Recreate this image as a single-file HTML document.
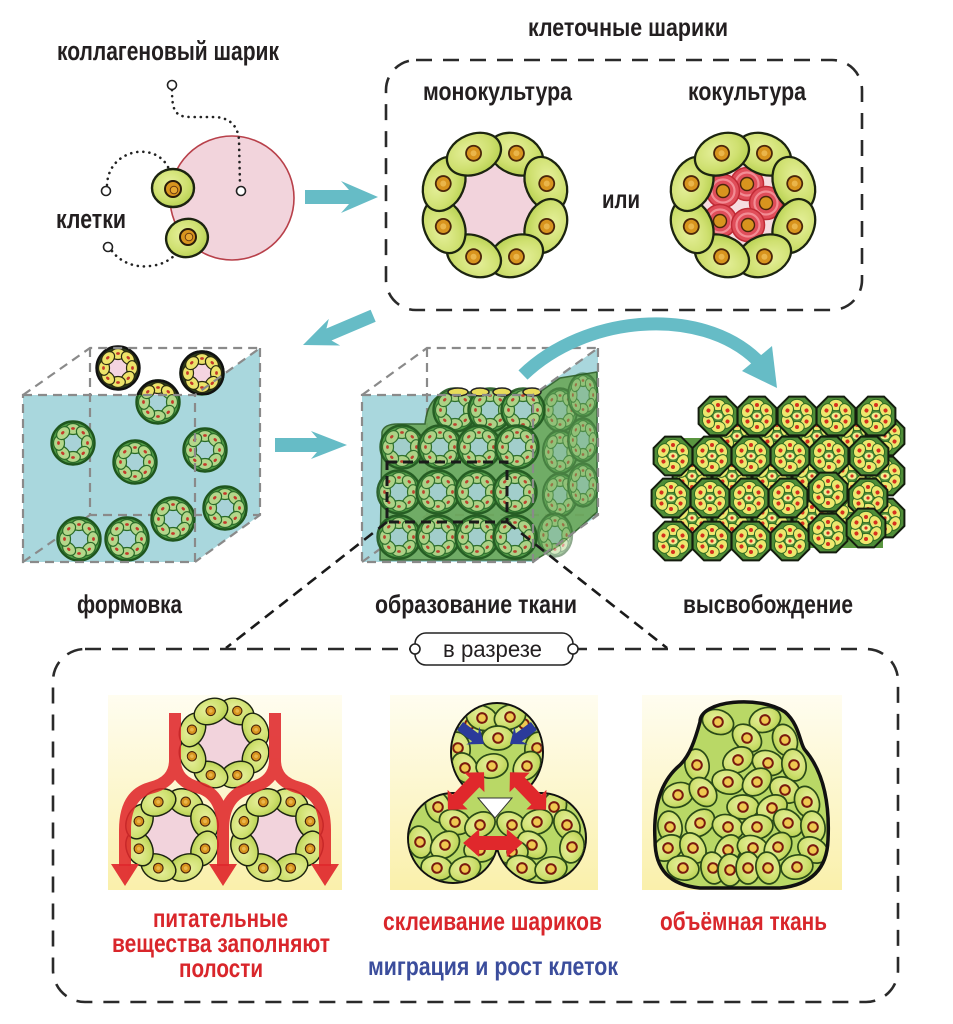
<!DOCTYPE html>
<html><head><meta charset="utf-8">
<style>
html,body{margin:0;padding:0;background:#fff;}
svg{display:block}
text{font-family:"Liberation Sans","DejaVu Sans",sans-serif;font-weight:bold;}
</style></head><body>
<svg width="953" height="1024" viewBox="0 0 953 1024" xmlns="http://www.w3.org/2000/svg" xmlns:xlink="http://www.w3.org/1999/xlink">
<defs>
<radialGradient id="cg" cx="0.42" cy="0.38" r="0.75"><stop offset="0" stop-color="#e6f09c"/><stop offset="0.55" stop-color="#cfe070"/><stop offset="1" stop-color="#aecb45"/></radialGradient>
<linearGradient id="pbg" x1="0" y1="0" x2="0" y2="1"><stop offset="0" stop-color="#fffdf0"/><stop offset="1" stop-color="#faf0ab"/></linearGradient>
<g id="bc"><ellipse rx="28" ry="20" fill="url(#cg)" stroke="#1c2410" stroke-width="2.3"/><circle cy="-1" r="7.5" fill="#d8941e" stroke="#4b260a" stroke-width="1.8"/><circle cy="-1" r="3" fill="#eab54a"/></g>
<g id="rcells">
<use href="#bc" transform="rotate(22.5) translate(0,-55)"/>
<use href="#bc" transform="rotate(67.5) translate(0,-55)"/>
<use href="#bc" transform="rotate(112.5) translate(0,-55)"/>
<use href="#bc" transform="rotate(157.5) translate(0,-55)"/>
<use href="#bc" transform="rotate(202.5) translate(0,-55)"/>
<use href="#bc" transform="rotate(247.5) translate(0,-55)"/>
<use href="#bc" transform="rotate(292.5) translate(0,-55)"/>
<use href="#bc" transform="rotate(337.5) translate(0,-55)"/>
</g>
<g id="ring"><polygon points="38.8,16.1 16.1,38.8 -16.1,38.8 -38.8,16.1 -38.8,-16.1 -16.1,-38.8 16.1,-38.8 38.8,-16.1" fill="#f2d3dc"/><use href="#rcells"/></g>
<g id="rc"><circle r="16.5" fill="#e04e5a" stroke="#c02a35" stroke-width="1.5"/><circle r="11.5" fill="none" stroke="#f28c94" stroke-width="2.2"/><circle r="6.5" fill="#d8941e" stroke="#4b260a" stroke-width="1.4"/></g>
<g id="sc"><ellipse cy="-14" rx="7.3" ry="5.5" fill="#b3d78a" stroke="#2a6a28" stroke-width="1.2"/><ellipse cy="-14.5" rx="1.9" ry="1.4" fill="#c43a2a"/></g>
<g id="sph"><circle r="21.5" fill="#4f9a45" stroke="#1f561d" stroke-width="2.4"/><circle r="8.8" fill="#a8d2d7"/>
<use href="#sc"/><use href="#sc" transform="rotate(45)"/><use href="#sc" transform="rotate(90)"/><use href="#sc" transform="rotate(135)"/><use href="#sc" transform="rotate(180)"/><use href="#sc" transform="rotate(225)"/><use href="#sc" transform="rotate(270)"/><use href="#sc" transform="rotate(315)"/></g>
<g id="syc"><ellipse cy="-14" rx="7.3" ry="5.5" fill="#ece36a" stroke="#2a2a10" stroke-width="1.2"/><ellipse cy="-14.5" rx="1.9" ry="1.4" fill="#c43a2a"/></g>
<g id="sphY"><circle r="21.5" fill="#2b3b1a" stroke="#111" stroke-width="2.4"/><circle r="9" fill="#f4d4e0"/>
<use href="#syc"/><use href="#syc" transform="rotate(45)"/><use href="#syc" transform="rotate(90)"/><use href="#syc" transform="rotate(135)"/><use href="#syc" transform="rotate(180)"/><use href="#syc" transform="rotate(225)"/><use href="#syc" transform="rotate(270)"/><use href="#syc" transform="rotate(315)"/></g>
<g id="oyc"><ellipse cy="-11" rx="7.2" ry="5.6" fill="#ece86e" stroke="#2f6a22" stroke-width="1"/><circle cy="-11" r="2" fill="#d6301e"/></g>
<g id="oc"><polygon points="19.4,8 8,19.4 -8,19.4 -19.4,8 -19.4,-8 -8,-19.4 8,-19.4 19.4,-8" fill="#4f8d38" stroke="#141d0e" stroke-width="2"/>
<use href="#oyc"/><use href="#oyc" transform="rotate(60)"/><use href="#oyc" transform="rotate(120)"/><use href="#oyc" transform="rotate(180)"/><use href="#oyc" transform="rotate(240)"/><use href="#oyc" transform="rotate(300)"/>
<ellipse rx="4.5" ry="3.5" fill="#f2ee90"/><circle r="1.6" fill="#d6301e"/></g>
<g id="pc"><ellipse rx="16" ry="12" fill="url(#cg)" stroke="#2a4a18" stroke-width="1.7"/><circle r="4.8" fill="#f0c850" stroke="#7a1a0e" stroke-width="2"/></g>
<clipPath id="clipAbove"><rect x="0" y="300" width="953" height="95"/></clipPath>
<clipPath id="clipP2"><ellipse cx="497" cy="752" rx="45" ry="48"/><circle cx="453" cy="838" r="44"/><circle cx="541" cy="838" r="44"/><polygon points="465,792 530,792 545,805 497,850 450,805"/></clipPath>
<path id="mound" d="M700 722 C700 700 760 695 785 712 C800 725 800 745 805 750 C822 770 830 800 828 840 C827 870 810 885 780 888 L700 888 C670 885 655 870 655 840 C653 805 662 780 680 765 C690 755 695 740 700 722 Z"/>
<clipPath id="clipP3"><use href="#mound"/></clipPath>
<polygon id="dbl" points="-26,0 -12,-14 -12,-7 12,-7 12,-14 26,0 12,14 12,7 -12,7 -12,14" fill="#e0282c"/>
</defs>

<!-- ===== TOP LEFT ===== -->
<text x="57" y="60" font-size="27" fill="#231f20" textLength="222" lengthAdjust="spacingAndGlyphs">коллагеновый шарик</text>
<text x="56" y="228" font-size="27" fill="#231f20" textLength="70" lengthAdjust="spacingAndGlyphs">клетки</text>

<circle cx="232" cy="198" r="62" fill="#f2d4dc" stroke="#b8404a" stroke-width="1.6"/>
<g fill="none" stroke="#222" stroke-width="2.6" stroke-linecap="round" stroke-dasharray="0.1 6">
<path d="M172 90 C172 110 175 117 190 117 L215 117 C232 118 238 128 239 140 L240 185"/>
<path d="M107 185 C108 160 130 150 145 152 C158 153 168 162 171 175"/>
<path d="M112 251 C120 262 135 268 150 266 C162 265 170 260 176 254"/>
</g>
<g fill="#fff" stroke="#222" stroke-width="1.6">
<circle cx="172" cy="85" r="4.5"/><circle cx="241" cy="191" r="4.5"/><circle cx="106" cy="191" r="4.5"/><circle cx="108" cy="247" r="4.5"/>
</g>
<g>
<ellipse cx="173" cy="188" rx="21" ry="19" fill="url(#cg)" stroke="#1c2410" stroke-width="2.4"/>
<circle cx="173" cy="189" r="8" fill="#d8941e" stroke="#2a1a08" stroke-width="2"/><circle cx="174" cy="190" r="3.8" fill="#e8a830" stroke="#6a3a10" stroke-width="1"/>
<ellipse cx="187" cy="238" rx="21" ry="19" fill="url(#cg)" stroke="#1c2410" stroke-width="2.4" transform="rotate(-15 187 238)"/>
<circle cx="188" cy="237" r="8" fill="#d8941e" stroke="#2a1a08" stroke-width="2"/><circle cx="189" cy="237" r="3.8" fill="#e8a830" stroke="#6a3a10" stroke-width="1"/>
</g>

<polygon points="305,190 349,190 341,181 378,197 341,213 349,204 305,204" fill="#66bcc6"/>

<!-- ===== TOP RIGHT BOX ===== -->
<text x="528" y="36" font-size="25" fill="#231f20" textLength="200" lengthAdjust="spacingAndGlyphs">клеточные шарики</text>
<rect x="386" y="60" width="476" height="250" rx="30" fill="none" stroke="#2a2a2a" stroke-width="2.6" stroke-dasharray="16 11"/>
<text x="423" y="100" font-size="26" fill="#231f20" textLength="149" lengthAdjust="spacingAndGlyphs">монокультура</text>
<text x="688" y="100" font-size="26" fill="#231f20" textLength="118" lengthAdjust="spacingAndGlyphs">кокультура</text>
<text x="602" y="208" font-size="26" fill="#231f20" textLength="38" lengthAdjust="spacingAndGlyphs">или</text>
<use href="#ring" transform="translate(495,205)"/>
<g transform="translate(743,205)">
<circle r="42" fill="#f6dce0"/>
<use href="#rc" transform="translate(4,-21)"/>
<use href="#rc" transform="translate(-20,-14)"/>
<use href="#rc" transform="translate(23,-2)"/>
<use href="#rc" transform="translate(-23,16)"/>
<use href="#rc" transform="translate(5,20)"/>
<use href="#rcells"/>
</g>

<g transform="translate(303,345) rotate(-23)"><polygon points="0,0 34,-14 28,-6 76,-6 76,7 28,7 34,15" fill="#66bcc6"/></g>

<!-- ===== CUBE 1 ===== -->
<polygon points="23,395 195,395 195,562 23,562" fill="#a9d7dd"/>
<polygon points="195,395 260,348 260,515 195,562" fill="#a9d7dd"/>
<g fill="none" stroke="#8a8a8a" stroke-width="2.2" stroke-dasharray="9 6">
<path d="M90 348 V515 H260"/><path d="M23 562 L90 515"/>
</g>
<use href="#sph" transform="translate(73,443)"/>
<use href="#sph" transform="translate(135,462)"/>
<use href="#sph" transform="translate(205,450)"/>
<use href="#sph" transform="translate(225,508)"/>
<use href="#sph" transform="translate(173,519)"/>
<use href="#sph" transform="translate(79,539)"/>
<use href="#sph" transform="translate(127,539)"/>
<use href="#sphY" transform="translate(118,368)"/>
<use href="#sph" transform="translate(158,402)"/>
<use href="#sph" transform="translate(202,373)"/>
<g clip-path="url(#clipAbove)"><use href="#sphY" transform="translate(158,402)"/><use href="#sphY" transform="translate(202,373)"/></g>
<g fill="none" stroke="#8a8a8a" stroke-width="2.2" stroke-dasharray="9 6">
<rect x="23" y="395" width="172" height="167"/>
<path d="M23 395 L90 348 H260 L195 395 M260 348 V515 L195 562"/>
</g>

<polygon points="275,438 317,438 311,431 347,445 311,459 317,452 275,452" fill="#66bcc6"/>

<!-- ===== CUBE 2 ===== -->
<polygon points="362,395 533,395 533,562 362,562" fill="#a9d7dd"/>
<polygon points="533,395 598,348 598,515 533,562" fill="#a9d7dd"/>
<g fill="none" stroke="#8a8a8a" stroke-width="2.2" stroke-dasharray="9 6">
<path d="M427 348 V515 H598"/><path d="M362 562 L427 515"/>
</g>
<path d="M382 432 Q384 424 398 424 L425 424 Q428 396 448 392 L540 392 L560 378 L597 372 L597 512 L560 545 L535 560 L380 560 Z" fill="#6aa85a" stroke="#2d5e24" stroke-width="1.5" opacity="0.9"/>
<g opacity="0.5">
<use href="#sph" transform="translate(560,410) scale(0.8,1)"/>
<use href="#sph" transform="translate(583,395) scale(0.7,1)"/>
<use href="#sph" transform="translate(560,452) scale(0.8,1)"/>
<use href="#sph" transform="translate(583,440) scale(0.7,1)"/>
<use href="#sph" transform="translate(560,495) scale(0.8,1)"/>
<use href="#sph" transform="translate(583,485) scale(0.7,1)"/>
<use href="#sph" transform="translate(555,535) scale(0.8,1)"/>
</g>
<g opacity="0.9">
<use href="#sph" transform="translate(455,410)"/>
<use href="#sph" transform="translate(490,410)"/>
<use href="#sph" transform="translate(523,410)"/>
<use href="#sph" transform="translate(402,447)"/>
<use href="#sph" transform="translate(440,447)"/>
<use href="#sph" transform="translate(479,447)"/>
<use href="#sph" transform="translate(517,447)"/>
<use href="#sph" transform="translate(399,492)"/>
<use href="#sph" transform="translate(438,492)"/>
<use href="#sph" transform="translate(477,492)"/>
<use href="#sph" transform="translate(515,492)"/>
<use href="#sph" transform="translate(399,537)"/>
<use href="#sph" transform="translate(438,537)"/>
<use href="#sph" transform="translate(477,537)"/>
<use href="#sph" transform="translate(515,537)"/>
</g>
<g fill="#e8dc5a" stroke="#222" stroke-width="1.5">
<ellipse cx="458" cy="392" rx="10" ry="4"/><ellipse cx="480" cy="392" rx="9" ry="4"/><ellipse cx="502" cy="392" rx="9" ry="4"/><ellipse cx="532" cy="392" rx="9" ry="4"/>
</g>
<g fill="none" stroke="#8a8a8a" stroke-width="2.2" stroke-dasharray="9 6">
<rect x="362" y="395" width="171" height="167"/>
<path d="M362 395 L427 348 H598 L533 395 M598 348 V515 L533 562"/>
</g>
<g fill="none" stroke="#1a1a1a" stroke-width="3" stroke-dasharray="10 6">
<rect x="387" y="462" width="120" height="60"/>
</g>
<g fill="none" stroke="#1a1a1a" stroke-width="2.6" stroke-dasharray="11 7">
<path d="M387 522 L226 648"/><path d="M507 522 L667 648"/>
</g>

<path d="M523 375 C585 315 700 305 757 360" fill="none" stroke="#66bcc6" stroke-width="13"/>
<polygon points="742,371 772,346 777,388" fill="#66bcc6"/>

<!-- ===== RELEASED ===== -->
<rect x="678" y="438" width="205" height="110" fill="#5a9640"/>
<g>
<use href="#oc" transform="translate(737,436)"/><use href="#oc" transform="translate(777,436)"/><use href="#oc" transform="translate(817,436)"/><use href="#oc" transform="translate(857,436)"/><use href="#oc" transform="translate(885,436)"/>
<use href="#oc" transform="translate(692,476)"/><use href="#oc" transform="translate(732,476)"/><use href="#oc" transform="translate(772,476)"/><use href="#oc" transform="translate(812,476)"/><use href="#oc" transform="translate(852,476)"/><use href="#oc" transform="translate(885,476)"/>
<use href="#oc" transform="translate(692,518)"/><use href="#oc" transform="translate(732,518)"/><use href="#oc" transform="translate(772,518)"/><use href="#oc" transform="translate(812,518)"/><use href="#oc" transform="translate(852,518)"/><use href="#oc" transform="translate(885,518)"/>
</g>
<g>
<use href="#oc" transform="translate(718,416)"/><use href="#oc" transform="translate(757,416)"/><use href="#oc" transform="translate(797,416)"/><use href="#oc" transform="translate(836,416)"/><use href="#oc" transform="translate(876,416)"/>
<use href="#oc" transform="translate(673,456)"/><use href="#oc" transform="translate(712,456)"/><use href="#oc" transform="translate(751,456)"/><use href="#oc" transform="translate(790,456)"/><use href="#oc" transform="translate(829,456)"/><use href="#oc" transform="translate(869,456)"/>
<use href="#oc" transform="translate(671,498)"/><use href="#oc" transform="translate(710,498)"/><use href="#oc" transform="translate(749,498)"/><use href="#oc" transform="translate(788,498)"/><use href="#oc" transform="translate(828,492)"/><use href="#oc" transform="translate(868,498)"/>
<use href="#oc" transform="translate(673,541)"/><use href="#oc" transform="translate(712,541)"/><use href="#oc" transform="translate(751,541)"/><use href="#oc" transform="translate(790,541)"/><use href="#oc" transform="translate(828,533)"/><use href="#oc" transform="translate(866,528)"/>
</g>

<text x="77" y="613" font-size="26" fill="#231f20" textLength="105" lengthAdjust="spacingAndGlyphs">формовка</text>
<text x="375" y="613" font-size="26" fill="#231f20" textLength="202" lengthAdjust="spacingAndGlyphs">образование ткани</text>
<text x="683" y="613" font-size="26" fill="#231f20" textLength="170" lengthAdjust="spacingAndGlyphs">высвобождение</text>

<!-- ===== BOTTOM BOX ===== -->
<rect x="53" y="649" width="845" height="353" rx="32" fill="none" stroke="#2a2a2a" stroke-width="2.6" stroke-dasharray="16 11"/>
<rect x="415" y="633" width="158" height="32" rx="11" fill="#fff" stroke="#222" stroke-width="1.6"/>
<circle cx="415" cy="649" r="5" fill="#fff" stroke="#222" stroke-width="1.6"/>
<circle cx="573" cy="649" r="5" fill="#fff" stroke="#222" stroke-width="1.6"/>
<text x="443" y="657" font-size="23" style="font-weight:normal" fill="#231f20" textLength="99" lengthAdjust="spacingAndGlyphs">в разрезе</text>

<rect x="108" y="695" width="234" height="195" fill="url(#pbg)"/>
<rect x="390" y="695" width="208" height="195" fill="url(#pbg)"/>
<rect x="642" y="695" width="200" height="195" fill="url(#pbg)"/>

<!-- panel 1 -->
<use href="#ring" transform="translate(224,743) scale(0.62)"/>
<use href="#ring" transform="translate(172,835) scale(0.64)"/>
<use href="#ring" transform="translate(277,835) scale(0.64)"/>
<g fill="none" stroke="#e0282c" stroke-width="12" opacity="0.88">
<path d="M175 713 L175 760 Q175 782 150 788 Q125 795 125 830 L125 866"/>
<path d="M175 760 Q175 782 200 788 Q223 795 223 830 L223 866"/>
<path d="M275 713 L275 760 Q275 782 250 788 Q223 795 223 830"/>
<path d="M275 760 Q275 782 300 788 Q325 795 325 830 L325 866"/>
</g>
<g fill="#e0282c" opacity="0.92">
<polygon points="111,864 139,864 125,886"/><polygon points="209,864 237,864 223,886"/><polygon points="311,864 339,864 325,886"/>
</g>

<!-- panel 2 -->
<g fill="#111">
<ellipse cx="497" cy="752" rx="47" ry="50"/><circle cx="453" cy="838" r="46"/><circle cx="541" cy="838" r="46"/><polygon points="463,790 531,790 547,805 497,852 447,805"/>
</g>
<g fill="#b9d866">
<ellipse cx="497" cy="752" rx="45" ry="48"/><circle cx="453" cy="838" r="44"/><circle cx="541" cy="838" r="44"/><polygon points="465,792 530,792 545,805 497,850 450,805"/>
</g>
<g clip-path="url(#clipP2)">
<use href="#pc" transform="translate(470,724) rotate(60)"/><use href="#pc" transform="translate(524,724) rotate(-60)"/>
<use href="#pc" transform="translate(482,718) rotate(20)"/><use href="#pc" transform="translate(510,717) rotate(-20)"/><use href="#pc" transform="translate(458,748) rotate(80)"/><use href="#pc" transform="translate(537,748) rotate(100)"/>
<use href="#pc" transform="translate(498,738)"/><use href="#pc" transform="translate(465,768) rotate(60)"/><use href="#pc" transform="translate(492,766) rotate(-10)"/><use href="#pc" transform="translate(527,766) rotate(-50)"/>
<use href="#pc" transform="translate(438,807) rotate(70)"/><use href="#pc" transform="translate(455,822) rotate(20)"/><use href="#pc" transform="translate(480,825) rotate(-30)"/><use href="#pc" transform="translate(512,825) rotate(30)"/>
<use href="#pc" transform="translate(554,807) rotate(-70)"/><use href="#pc" transform="translate(537,822) rotate(-20)"/><use href="#pc" transform="translate(567,825) rotate(60)"/>
<use href="#pc" transform="translate(420,842) rotate(80)"/><use href="#pc" transform="translate(445,845) rotate(-40)"/><use href="#pc" transform="translate(532,845) rotate(40)"/><use href="#pc" transform="translate(572,847) rotate(-80)"/>
<use href="#pc" transform="translate(480,850)"/><use href="#pc" transform="translate(512,852)"/>
<use href="#pc" transform="translate(437,868) rotate(10)"/><use href="#pc" transform="translate(465,869) rotate(-20)"/><use href="#pc" transform="translate(522,868) rotate(20)"/><use href="#pc" transform="translate(551,869) rotate(-10)"/>
</g>
<polygon points="478,798 512,798 495,818" fill="#fff" stroke="#333" stroke-width="1"/>
<g fill="#2b3a9a">
<g transform="translate(484,744) rotate(37)"><polygon points="0,0 -14,-11 -11,-5 -30,-5 -30,5 -11,5 -14,11"/></g>
<g transform="translate(510,744) rotate(143)"><polygon points="0,0 -14,-11 -11,-5 -30,-5 -30,5 -11,5 -14,11"/></g>
</g>
<use href="#dbl" transform="translate(466,791) rotate(-46)"/>
<use href="#dbl" transform="translate(528,791) rotate(46)"/>
<use href="#dbl" transform="translate(493,843) scale(1.15,1)"/>

<!-- panel 3 -->
<use href="#mound" fill="#b9d866"/>
<g clip-path="url(#clipP3)">
<use href="#pc" transform="translate(718,722) rotate(20)"/><use href="#pc" transform="translate(765,720) rotate(-20)"/><use href="#pc" transform="translate(747,738) rotate(40)"/><use href="#pc" transform="translate(785,740) rotate(70)"/>
<use href="#pc" transform="translate(697,765) rotate(80)"/><use href="#pc" transform="translate(738,760) rotate(-30)"/><use href="#pc" transform="translate(768,763) rotate(20)"/><use href="#pc" transform="translate(794,765) rotate(80)"/>
<use href="#pc" transform="translate(728,782) rotate(10)"/><use href="#pc" transform="translate(757,782) rotate(-40)"/><use href="#pc" transform="translate(785,790) rotate(30)"/>
<use href="#pc" transform="translate(678,795) rotate(-20)"/><use href="#pc" transform="translate(703,792) rotate(50)"/><use href="#pc" transform="translate(743,807)"/><use href="#pc" transform="translate(772,808) rotate(-30)"/><use href="#pc" transform="translate(807,802) rotate(70)"/>
<use href="#pc" transform="translate(670,827) rotate(80)"/><use href="#pc" transform="translate(700,823) rotate(-40)"/><use href="#pc" transform="translate(728,827) rotate(20)"/><use href="#pc" transform="translate(757,827) rotate(-10)"/><use href="#pc" transform="translate(788,823) rotate(40)"/><use href="#pc" transform="translate(813,827) rotate(80)"/>
<use href="#pc" transform="translate(668,848) rotate(-30)"/><use href="#pc" transform="translate(693,848) rotate(60)"/><use href="#pc" transform="translate(728,850) rotate(-60)"/><use href="#pc" transform="translate(753,848) rotate(20)"/><use href="#pc" transform="translate(778,847) rotate(-50)"/><use href="#pc" transform="translate(813,850) rotate(30)"/>
<use href="#pc" transform="translate(683,868) rotate(10)"/><use href="#pc" transform="translate(713,868) rotate(80)"/><use href="#pc" transform="translate(730,870) rotate(90)"/><use href="#pc" transform="translate(748,868) rotate(90)"/><use href="#pc" transform="translate(768,868) rotate(80)"/><use href="#pc" transform="translate(797,867) rotate(-10)"/>
</g>
<use href="#mound" fill="none" stroke="#111" stroke-width="3.5"/>

<text x="153" y="927" font-size="26" fill="#d9262b" textLength="135" lengthAdjust="spacingAndGlyphs">питательные</text>
<text x="112" y="952" font-size="26" fill="#d9262b" textLength="218" lengthAdjust="spacingAndGlyphs">вещества заполняют</text>
<text x="179" y="977" font-size="26" fill="#d9262b" textLength="84" lengthAdjust="spacingAndGlyphs">полости</text>
<text x="383" y="930" font-size="26" fill="#d9262b" textLength="219" lengthAdjust="spacingAndGlyphs">склеивание шариков</text>
<text x="368" y="975" font-size="26" fill="#3b4d9c" textLength="250" lengthAdjust="spacingAndGlyphs">миграция и рост клеток</text>
<text x="660" y="930" font-size="26" fill="#d9262b" textLength="167" lengthAdjust="spacingAndGlyphs">объёмная ткань</text>
</svg>
</body></html>
